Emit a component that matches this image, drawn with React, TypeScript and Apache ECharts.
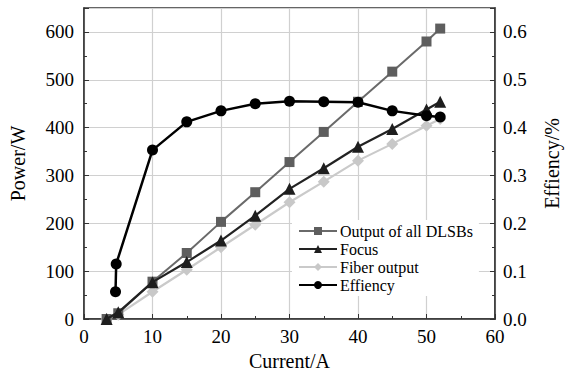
import React, { useEffect, useRef } from "react";
import * as echarts from "echarts";

const currents = [3.3, 5, 10, 15, 20, 25, 30, 35, 40, 45, 50, 52];
const outputAll = [0, 12, 78, 138, 203, 265, 328, 391, 454, 517, 580, 607];
const focus = [0, 14, 77, 119, 164, 216, 272, 315, 360, 397, 438, 454];
const fiber = [0, 9, 57, 103, 150, 197, 244, 287, 331, 366, 404, 418];
const effCurrents = [4.6, 4.7, 10, 15, 20, 25, 30, 35, 40, 45, 50, 52];
const efficiency = [0.057, 0.115, 0.353, 0.412, 0.435, 0.45, 0.455, 0.454, 0.453, 0.435, 0.425, 0.422];

const FONT = "'Liberation Serif', 'Times New Roman', 'DejaVu Serif', serif";

export default function App() {
  const ref = useRef<HTMLDivElement>(null);
  useEffect(() => {
    if (!ref.current) return;
    const chart = echarts.init(ref.current, null, { renderer: "svg" });
    const pair = (xs: number[], ys: number[]) => xs.map((x, i) => [x, ys[i]]);
    const axisCommon = {
      axisLine: { show: true, lineStyle: { color: "#333", width: 1.5 } },
      axisTick: { show: true, inside: true, length: 5, lineStyle: { color: "#333" } },
      minorTick: { show: true, splitNumber: 2, length: 3, lineStyle: { color: "#333" } },
      axisLabel: { color: "#000", fontFamily: FONT, fontSize: 19 },
      nameTextStyle: { color: "#000", fontFamily: FONT, fontSize: 20 },
    };
    chart.setOption({
      animation: false,
      backgroundColor: "#fff",
      textStyle: { fontFamily: FONT },
      grid: { left: 84, right: 67, top: 8, bottom: 56, show: true, borderColor: "#333", borderWidth: 1.5, backgroundColor: "transparent" },
      legend: {
        left: 292,
        top: 220,
        orient: "vertical",
        backgroundColor: "#fff",
        padding: [3, 6],
        itemGap: 2,
        itemWidth: 38,
        itemHeight: 10,
        textStyle: { fontFamily: FONT, fontSize: 16, color: "#000", padding: [0, 0, 0, -2] },
        data: ["Output of all DLSBs", "Focus", "Fiber output", "Effiency"],
      },
      xAxis: {
        type: "value",
        min: 0,
        max: 60,
        interval: 10,
        name: "Current/A",
        nameLocation: "middle",
        nameGap: 32,
        ...axisCommon,
        axisLabel: { ...axisCommon.axisLabel, margin: 8 },
        splitLine: { show: true, lineStyle: { color: "#d0d0d0", width: 1.2 } },
      },
      yAxis: [
        {
          type: "value",
          min: 0,
          max: 650,
          interval: 100,
          name: "Power/W",
          nameLocation: "middle",
          nameRotate: 90,
          nameGap: 56,
          ...axisCommon,
          axisLabel: { ...axisCommon.axisLabel, margin: 10, formatter: (v: number) => (v > 600 ? "" : String(v)) },
          splitLine: { show: true, lineStyle: { color: "#d0d0d0", width: 1.2 } },
        },
        {
          type: "value",
          min: 0,
          max: 0.65,
          interval: 0.1,
          name: "Effiency/%",
          nameLocation: "middle",
          nameRotate: 90,
          nameGap: 47,
          position: "right",
          ...axisCommon,
          axisLabel: { ...axisCommon.axisLabel, margin: 8, formatter: (v: number) => (v > 0.61 ? "" : v.toFixed(1)) },
          splitLine: { show: false },
        },
      ],
      series: [
        {
          name: "Output of all DLSBs",
          type: "line",
          data: pair(currents, outputAll),
          symbol: "rect",
          symbolSize: 10,
          itemStyle: { color: "#5e5e5e" },
          lineStyle: { color: "#6a6a6a", width: 2 },
          z: 3,
        },
        {
          name: "Focus",
          type: "line",
          data: pair(currents, focus),
          symbol: "triangle",
          symbolSize: 12,
          itemStyle: { color: "#1e1e1e" },
          lineStyle: { color: "#222", width: 2.2 },
          z: 4,
        },
        {
          name: "Fiber output",
          type: "line",
          data: pair(currents, fiber),
          symbol: "diamond",
          symbolSize: 12,
          itemStyle: { color: "#c8c8c8" },
          lineStyle: { color: "#cacaca", width: 2.2 },
          z: 2,
        },
        {
          name: "Effiency",
          type: "line",
          yAxisIndex: 1,
          data: pair(effCurrents, efficiency),
          symbol: "circle",
          symbolSize: 11,
          itemStyle: { color: "#000" },
          lineStyle: { color: "#000", width: 2.5 },
          z: 5,
        },
      ],
    });
    return () => chart.dispose();
  }, []);
  return <div ref={ref} style={{ width: 570, height: 376, position: "absolute", left: 0, top: 0 }} />;
}
